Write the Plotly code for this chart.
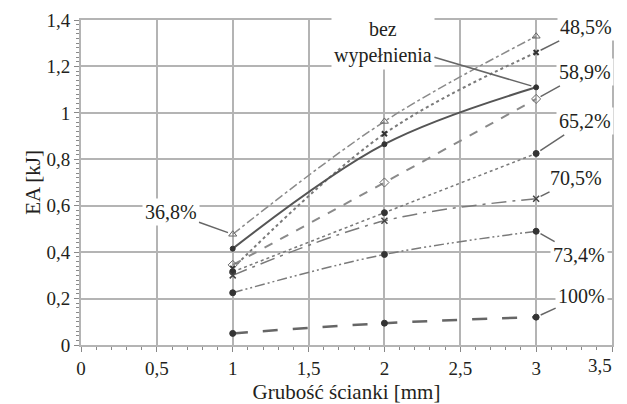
import plotly.graph_objects as go

# ---- data ----
thickness = [1, 2, 3]
ea_368 = [0.477, 0.963, 1.33]
ea_485 = [0.33, 0.91, 1.26]
ea_bez = [0.415, 0.865, 1.11]
ea_589 = [0.345, 0.70, 1.06]
ea_652 = [0.315, 0.57, 0.825]
ea_705 = [0.30, 0.535, 0.63]
ea_734 = [0.225, 0.39, 0.49]
ea_100 = [0.05, 0.094, 0.12]

series_names = ["36,8%", "48,5%", "bez wypełnienia", "58,9%", "65,2%", "70,5%", "73,4%", "100%"]
x_ticks = [0, 0.5, 1, 1.5, 2, 2.5, 3, 3.5]
x_ticklabels = ["0", "0,5", "1", "1,5", "2", "2,5", "3", "3,5"]
y_ticks = [0, 0.2, 0.4, 0.6, 0.8, 1.0, 1.2, 1.4]

FONT = "Liberation Serif"
GRID = "#b4b4b4"
TXT = "#231f20"

fig = go.Figure()

def add(y, name, dash, width, color, symbol, msize, mcolor, mline=1):
    fig.add_trace(go.Scatter(
        x=thickness, y=y, name=name, mode="lines+markers",
        line=dict(shape="spline", dash=dash, width=width, color=color),
        marker=dict(symbol=symbol, size=msize, color=mcolor,
                    line=dict(width=mline, color=mcolor)),
    ))

add(ea_368, series_names[0], "dashdot", 1.5, "#8a8a8a", "triangle-up-open", 7, "#666666")
add(ea_485, series_names[1], "dot", 2, "#7a7a7a", "x-thin", 5, "#333333", 2)
add(ea_bez, series_names[2], "solid", 2, "#555555", "circle", 5, "#333333")
add(ea_589, series_names[3], "dash", 2, "#8a8a8a", "diamond-open", 7, "#666666")
add(ea_652, series_names[4], "dot", 1.5, "#7a7a7a", "circle", 6, "#333333")
add(ea_705, series_names[5], "longdashdot", 1.5, "#7a7a7a", "x-thin-open", 6, "#444444", 1.5)
add(ea_734, series_names[6], "10px,3px,2px,3px,2px,3px", 1.5, "#7a7a7a", "circle", 6, "#333333")
add(ea_100, series_names[7], "longdash", 2.5, "#666666", "circle", 6, "#333333")

# labels with leader lines: (text, data series, point index, label x, label y)
labels = [
    (series_names[0], ea_368, 0, 0.59, 0.572),
    (series_names[1], ea_485, 2, 3.33, 1.368),
    (series_names[3], ea_589, 2, 3.32, 1.174),
    (series_names[4], ea_652, 2, 3.32, 0.963),
    (series_names[5], ea_705, 2, 3.26, 0.718),
    (series_names[6], ea_734, 2, 3.28, 0.387),
    (series_names[7], ea_100, 2, 3.30, 0.211),
    ("bez<br>wypełnienia", ea_bez, 2, 1.99, 1.305),
]
for text, ys, i, lx, ly in labels:
    fig.add_annotation(
        x=thickness[i], y=ys[i], ax=lx, ay=ly, axref="x", ayref="y",
        text=text, showarrow=True, arrowhead=0, arrowwidth=1.5,
        arrowcolor="#666666", standoff=5,
        bgcolor="white", borderpad=2,
        font=dict(family=FONT, size=20, color=TXT),
    )

# last x tick label drawn right-aligned so it stays inside the picture
fig.add_annotation(
    x=x_ticks[-1], y=0, xref="x", yref="paper",
    xanchor="right", yanchor="top", xshift=2, yshift=-8,
    text=x_ticklabels[-1], showarrow=False,
    font=dict(family=FONT, size=19, color=TXT),
)

axis_common = dict(
    showgrid=True, gridcolor=GRID, gridwidth=2,
    showline=True, linecolor=GRID, linewidth=2, mirror=True,
    ticks="outside", ticklen=5, tickcolor="#888888", tickwidth=1,
    zeroline=False, automargin=False,
    tickfont=dict(family=FONT, size=19, color=TXT),
)

fig.update_xaxes(
    range=[0, 3.5], tickvals=x_ticks, ticktext=x_ticklabels[:-1] + [""],
    minor=dict(dtick=0.1, ticks="outside", ticklen=3, tickcolor="#888888", showgrid=False),
    title=dict(text="Grubość ścianki [mm]", font=dict(family=FONT, size=21, color=TXT), standoff=12),
    **axis_common,
)
fig.update_yaxes(
    range=[0, 1.4], tickvals=y_ticks,
    minor=dict(dtick=0.02, ticks="outside", ticklen=3, tickcolor="#888888", showgrid=False),
    title=dict(text="EA [kJ]", font=dict(family=FONT, size=21, color=TXT), standoff=0),
    **axis_common,
)

# page body adds an 8px margin, so the figure is 8px smaller and margins shifted
fig.update_layout(
    width=619, height=396,
    margin=dict(l=73, r=15, t=12, b=59),
    paper_bgcolor="white", plot_bgcolor="white",
    showlegend=False,
    separators=", ",
    font=dict(family=FONT),
)

fig.write_html("out.html")
